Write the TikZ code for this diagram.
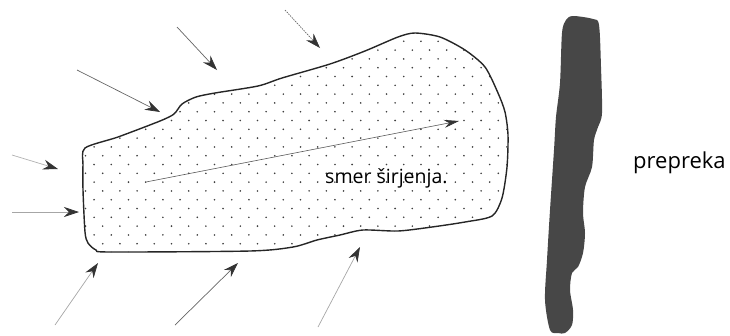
\documentclass[tikz,border=0pt]{standalone}
\usepackage{fontspec}
\newfontfamily\lblfont{Open Sans}
\usetikzlibrary{arrows.meta}
\begin{document}
\begin{tikzpicture}[x=1pt,y=-1pt,
  wave/.style={draw=gray!80!black,line width=0.7pt,
    -{Stealth[length=15pt,width=10pt,inset=5pt,color=black!80]}},
  lbl/.style={font=\lblfont, inner sep=0pt, anchor=base west}]
\useasboundingbox (0,0) rectangle (730,335);
% blob
\def\blob{plot[smooth cycle,tension=0.45] coordinates {
 (85,148) (118,137) (160,121) (174,114) (182,104) (196,97) (215,93) (258,86)
 (282,78) (330,64) (365,51) (398,37) (415,33) (440,37) (465,50) (485,67)
 (498,93) (505,112) (508,135) (507,167) (502,198) (492,216) (465,222)
 (432,227) (398,231) (363,230) (340,235) (317,240) (293,247) (250,251)
 (110,252) (96,250) (88,243) (85,232) (83,190) (83,165)}}
\begin{scope}
\clip \blob;
\foreach \j in {0,...,26} {
  \pgfmathsetmacro\off{8.6*(1-mod(\j,2))}
  \foreach \i in {-1,...,25} {
    \fill[black!75] ({94.1+\off+17.2*\i},{32.5+8.8*\j}) circle (0.9pt);
  }
}
\end{scope}
\draw[line width=1.4pt,black!85] \blob;
% direction arrow
\coordinate (d1) at (146,182);
\coordinate (d2) at (459,121);
\draw[draw=gray!70!black,line width=0.6pt,
  -{Stealth[length=15pt,width=8pt,inset=5pt,color=black!80]}] (d1) -- (d2);
\node[lbl,font=\lblfont\fontsize{19.5}{19.5}\selectfont] (txt) at (325,183) {smer širjenja.};
% obstacle
\fill[black!72] plot[smooth cycle,tension=0.5] coordinates {
 (566,20) (573,16) (593,19) (599,25) (601,67) (602,113) (598,127) (594,140)
 (592,167) (585,187) (583,213) (585,233) (583,253) (578,267) (572,273)
 (570,290) (573,310) (572,325) (565,333) (558,333) (550,330) (545,300)
 (547,260) (550,210) (554,150) (556,117) (560,83) (562,33)};
\node[lbl,font=\lblfont\fontsize{22}{22}\selectfont] (prep) at (633,168) {prepreka};
% incoming arrows
\coordinate (a1s) at (177,27);  \coordinate (a1e) at (217,70);
\coordinate (a2s) at (285,10);  \coordinate (a2e) at (320,48);
\coordinate (a3s) at (77,70);   \coordinate (a3e) at (160,112);
\coordinate (a4s) at (12,155);  \coordinate (a4e) at (58,169);
\coordinate (a5s) at (12,212);  \coordinate (a5e) at (79,212);
\coordinate (a6s) at (55,325);  \coordinate (a6e) at (98,263);
\coordinate (a7s) at (175,325); \coordinate (a7e) at (238,263);
\coordinate (a8s) at (318,327); \coordinate (a8e) at (360,247);
\draw[wave] (a1s) -- (a1e);
\draw[wave,dash pattern=on 1.5pt off 1pt] (a2s) -- (a2e);
\draw[wave] (a3s) -- (a3e);
\draw[wave,draw=gray!60] (a4s) -- (a4e);
\draw[wave,draw=gray!70] (a5s) -- (a5e);
\draw[wave,draw=gray!70] (a6s) -- (a6e);
\draw[wave] (a7s) -- (a7e);
\draw[wave,draw=gray!70] (a8s) -- (a8e);
\end{tikzpicture}
\end{document}
